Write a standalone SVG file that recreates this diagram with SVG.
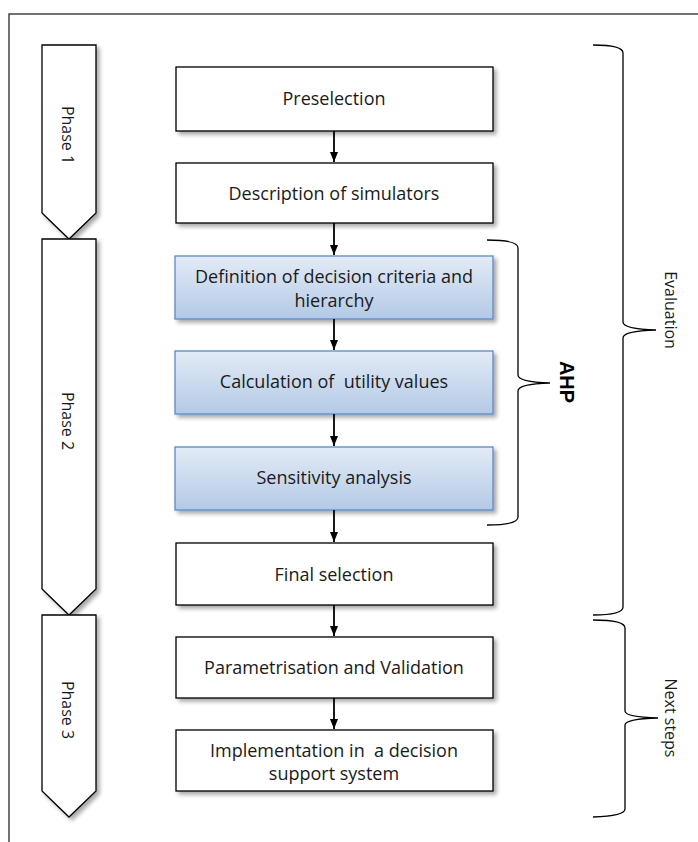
<svg xmlns="http://www.w3.org/2000/svg" width="698" height="842" viewBox="0 0 698 842">
<defs>
<filter id="sh" x="-10%" y="-10%" width="130%" height="140%">
<feGaussianBlur in="SourceAlpha" stdDeviation="2"/>
<feOffset dx="3" dy="3" result="b"/>
<feComponentTransfer><feFuncA type="linear" slope="0.35"/></feComponentTransfer>
<feMerge><feMergeNode/><feMergeNode in="SourceGraphic"/></feMerge>
</filter>
<linearGradient id="bl" x1="0" y1="0" x2="0" y2="1">
<stop offset="0" stop-color="#e3ebf6"/>
<stop offset="1" stop-color="#b3c9e6"/>
</linearGradient>
<marker id="ar" markerWidth="10" markerHeight="8" refX="10" refY="4" orient="auto" markerUnits="userSpaceOnUse">
<path d="M0,0 L10,4 L0,8 Z" fill="#000"/>
</marker>
</defs>
<style>
.box{fill:#fff;stroke:#000;stroke-width:1.3}
.blue{fill:url(#bl);stroke:#5b8ac6;stroke-width:1.3}
.ph{fill:#fff;stroke:#000;stroke-width:1.3}
.t{font-family:"Open Sans","Noto Sans","Liberation Sans",sans-serif;font-size:18px;fill:#1a1a1a;text-anchor:middle;white-space:pre}
.pt{font-family:"Open Sans","Noto Sans","Liberation Sans",sans-serif;font-size:16px;fill:#1a1a1a;text-anchor:middle}
.br{fill:none;stroke:#000;stroke-width:1.3}
.ln{stroke:#000;stroke-width:1.8;fill:none}
</style>
<rect x="9" y="14" width="720" height="860" fill="#fff" stroke="#444" stroke-width="1.5"/>

<g id="phase1"><path class="ph" filter="url(#sh)" d="M42,45 H96 V213 L69,239 L42,213 Z"/><text class="pt" transform="translate(62,135) rotate(90)">Phase 1</text></g>
<g id="phase2"><path class="ph" filter="url(#sh)" d="M42,239 H96 V589 L69,615 L42,589 Z"/><text class="pt" transform="translate(62,421) rotate(90)">Phase 2</text></g>
<g id="phase3"><path class="ph" filter="url(#sh)" d="M42,615 H96 V791 L69,817 L42,791 Z"/><text class="pt" transform="translate(62,710) rotate(90)">Phase 3</text></g>

<g id="preselection"><rect class="box" filter="url(#sh)" x="176" y="67" width="317" height="64"/><text class="t" x="334" y="105">Preselection</text></g>
<g id="description"><rect class="box" filter="url(#sh)" x="176" y="163" width="317" height="60"/><text class="t" x="334" y="200">Description of simulators</text></g>
<g id="definition"><rect class="blue" filter="url(#sh)" x="175" y="256" width="318" height="63"/><text class="t" x="334" y="283">Definition of decision criteria and</text><text class="t" x="334" y="307">hierarchy</text></g>
<g id="calculation"><rect class="blue" filter="url(#sh)" x="175" y="351" width="318" height="63"/><text class="t" x="334" y="388" xml:space="preserve">Calculation of  utility values</text></g>
<g id="sensitivity"><rect class="blue" filter="url(#sh)" x="175" y="447" width="318" height="63"/><text class="t" x="334" y="484">Sensitivity analysis</text></g>
<g id="final"><rect class="box" filter="url(#sh)" x="176" y="543" width="317" height="62"/><text class="t" x="334" y="581">Final selection</text></g>
<g id="param"><rect class="box" filter="url(#sh)" x="176" y="637" width="317" height="61"/><text class="t" x="334" y="674">Parametrisation and Validation</text></g>
<g id="impl"><rect class="box" filter="url(#sh)" x="176" y="730" width="317" height="61"/><text class="t" x="334" y="757" xml:space="preserve">Implementation in  a decision</text><text class="t" x="334" y="780">support system</text></g>

<g id="connectors">
<line class="ln" x1="334" y1="131" x2="334" y2="162" marker-end="url(#ar)"/>
<line class="ln" x1="334" y1="223" x2="334" y2="255" marker-end="url(#ar)"/>
<line class="ln" x1="334" y1="319" x2="334" y2="350" marker-end="url(#ar)"/>
<line class="ln" x1="334" y1="414" x2="334" y2="446" marker-end="url(#ar)"/>
<line class="ln" x1="334" y1="510" x2="334" y2="542" marker-end="url(#ar)"/>
<line class="ln" x1="334" y1="605" x2="334" y2="636" marker-end="url(#ar)"/>
<line class="ln" x1="334" y1="698" x2="334" y2="729" marker-end="url(#ar)"/>
</g>

<g id="ahp">
<path class="br" d="M487,240 Q518,240 518,248 V375 Q518,382 550,383 Q518,384 518,391 V517 Q518,525 487,525"/>
<text transform="translate(560,382) rotate(90)" text-anchor="middle" font-family="'Liberation Sans',Arial,sans-serif" font-size="20" font-weight="bold" fill="#000">AHP</text>
</g>
<g id="evaluation">
<path class="br" d="M593,45 Q623,45 623,53 V322 Q623,329 656,330 Q623,331 623,338 V607 Q623,615 593,615"/>
<text class="pt" transform="translate(665,310) rotate(90)">Evaluation</text>
</g>
<g id="nextsteps">
<path class="br" d="M593,620 Q625,620 625,628 V711 Q625,717 658,718 Q625,719 625,725 V809 Q625,816 593,817"/>
<text class="pt" transform="translate(665,718) rotate(90)">Next steps</text>
</g>
</svg>
